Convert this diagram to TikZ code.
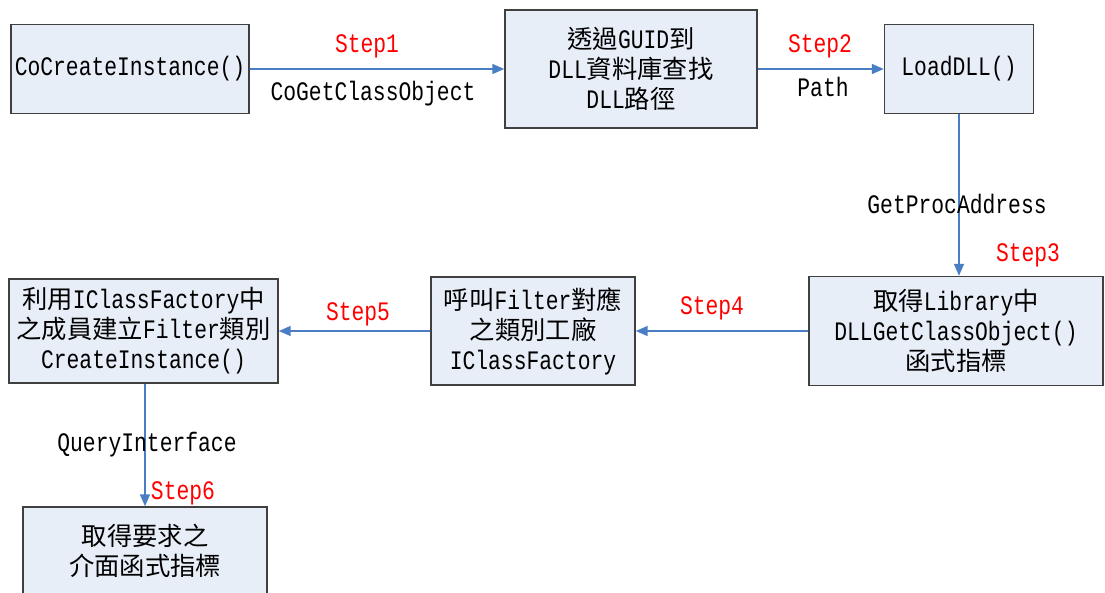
\documentclass[tikz,border=0pt]{standalone}
\usepackage{fontspec}
\setmainfont{Liberation Mono}[FakeStretch=0.8]
\newfontfamily\cj{Noto Sans CJK TC}[Scale=0.95]
\usetikzlibrary{arrows.meta}
\definecolor{boxfill}{HTML}{E8EEF8}
\definecolor{boxdraw}{HTML}{404040}
\definecolor{arrowc}{HTML}{4A7EC4}
\definecolor{stepred}{HTML}{FF0000}
\newcommand{\mainf}{\fontsize{20pt}{22.5pt}\selectfont}
\begin{document}
\begin{tikzpicture}[x=0.75pt,y=-0.75pt,
  box/.style={draw=boxdraw, fill=boxfill, line width=1.1pt, inner sep=0pt, align=center, font=\mainf},
  lbl/.style={inner sep=0pt, font=\mainf, text height=14pt, text depth=4pt},
  steplbl/.style={lbl, text=stepred},
  conn/.style={draw=arrowc, line width=1.2pt, -{Triangle[length=9pt,width=7.5pt]}}]
\useasboundingbox[fill=white] (0,0) rectangle (1105,592);

\node[box, minimum width=178.5pt, minimum height=66.75pt] (b1) at (130,69) {CoCreateInstance()};
\node[box, minimum width=189pt, minimum height=88.5pt] (b2) at (631,69) {{\cj 透過}GUID{\cj 到}\\DLL{\cj 資料庫查找}\\DLL{\cj 路徑}};
\node[box, minimum width=111.75pt, minimum height=66.75pt] (b3) at (959,69) {LoadDLL()};
\node[box, minimum width=220.5pt, minimum height=81.75pt] (b4) at (956,331) {{\cj 取得}Library{\cj 中}\\DLLGetClassObject()\\{\cj 函式指標}};
\node[box, minimum width=153pt, minimum height=81pt] (b5) at (533,331) {{\cj 呼叫}Filter{\cj 對應}\\{\cj 之類別工廠}\\IClassFactory};
\node[box, minimum width=201.75pt, minimum height=78pt] (b6) at (143.5,331) {{\cj 利用}IClassFactory{\cj 中}\\{\cj 之成員建立}Filter{\cj 類別}\\CreateInstance()};
\node[box, minimum width=183pt, minimum height=66pt] (b7) at (145,551) {{\cj 取得要求之}\\{\cj 介面函式指標}};

\draw[conn] (b1) -- (b2);
\draw[conn] (b2.east |- b3.west) -- (b3.west);
\draw[conn] (b3.south) -- (b3.south |- b4.north);
\draw[conn] (b4.west |- b5.east) -- (b5.east);
\draw[conn] (b5.west |- b6.east) -- (b6.east);
\draw[conn] (b7.north |- b6.south) -- (b7.north);

\node[steplbl] (s1) at (367,46) {Step1};
\node[lbl] (l1) at (373,94) {CoGetClassObject};
\node[steplbl] (s2) at (820,46) {Step2};
\node[lbl] (l2) at (823,90) {Path};
\node[lbl] (l3) at (957,207) {GetProcAddress};
\node[steplbl] (s3) at (1028,255) {Step3};
\node[steplbl] (s4) at (712,308) {Step4};
\node[steplbl] (s5) at (358,314) {Step5};
\node[lbl] (l6) at (147,445) {QueryInterface};
\node[steplbl] (s6) at (183,493) {Step6};
\end{tikzpicture}
\end{document}
